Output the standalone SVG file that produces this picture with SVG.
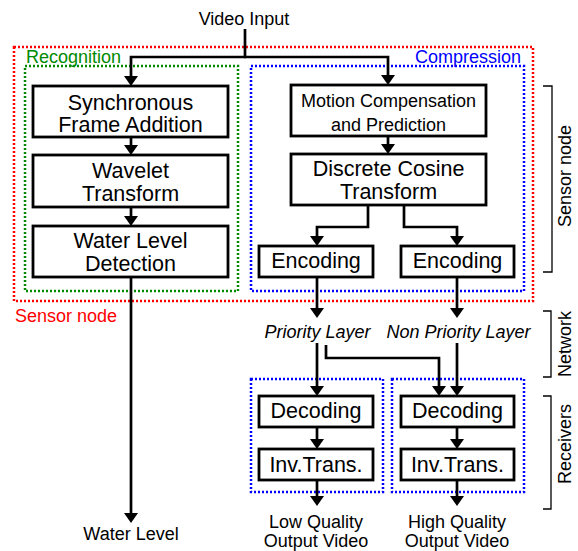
<svg xmlns="http://www.w3.org/2000/svg" width="578" height="551" viewBox="0 0 578 551">
<style>
text{font-family:"Liberation Sans",Arial,sans-serif;fill:#000}
.big{font-size:21.5px;text-anchor:middle}
.mid{font-size:18px;text-anchor:middle}
.lbl{font-size:18px}
.it{font-style:italic}
.box{fill:#fff;stroke:#000;stroke-width:2.8}
.dot{fill:none;stroke-width:2.5;stroke-dasharray:2 2}
.con{fill:none;stroke:#000;stroke-width:2.7;marker-end:url(#ah)}
.plain{fill:none;stroke:#000;stroke-width:2.7}
.br{fill:none;stroke:#000;stroke-width:1.3}
</style>
<defs>
<marker id="ah" markerUnits="userSpaceOnUse" markerWidth="10" markerHeight="14" viewBox="0 0 10 14" refX="4" refY="7" orient="auto">
<path d="M0,0 L10,7 L0,14 z" fill="#000"/>
</marker>
</defs>
<rect width="578" height="551" fill="#fff"/>
<g id="groups">
<rect class="dot" x="14" y="47" width="519" height="254" stroke="#ff0000"/>
<rect class="dot" x="25" y="66" width="213" height="225" stroke="#008a00"/>
<rect class="dot" x="251" y="66" width="273" height="225" stroke="#0000ff"/>
<rect class="dot" x="251" y="379" width="132" height="113" stroke="#0000ff"/>
<rect class="dot" x="392" y="379" width="132" height="113" stroke="#0000ff"/>
<text class="lbl" x="26" y="63" style="fill:#008a00">Recognition</text>
<text class="lbl" x="521" y="63" text-anchor="end" style="fill:#0000ff">Compression</text>
<text class="lbl" x="15" y="322" style="fill:#ff0000">Sensor node</text>
</g>
<g id="connectors">
<line class="plain" x1="245" y1="29" x2="245" y2="57"/>
<path class="con" d="M246,57 H131 V80"/>
<path class="con" d="M244,57 H388 V79"/>
<path class="con" d="M131,137 V149"/>
<path class="con" d="M131,207 V220"/>
<path class="con" d="M131,277 V517"/>
<path class="con" d="M388,136 V148"/>
<path class="con" d="M368,205 V227 H317 V240"/>
<path class="con" d="M404,205 V227 H457 V240"/>
<path class="con" d="M317,277 V312"/>
<path class="con" d="M457,277 V312"/>
<path class="con" d="M317,343 V390"/>
<path class="con" d="M326,345 V358 H439 V390"/>
<path class="con" d="M457,343 V390"/>
<path class="con" d="M317,427 V443"/>
<path class="con" d="M457,427 V443"/>
<path class="con" d="M317,480 V500"/>
<path class="con" d="M457,480 V500"/>
</g>
<g id="video-input"><text class="mid" x="244" y="25">Video Input</text></g>
<g id="sync">
<rect class="box" x="33" y="86" width="195" height="51"/>
<text class="big" x="130.5" y="110">Synchronous</text>
<text class="big" x="130.5" y="132">Frame Addition</text>
</g>
<g id="wavelet">
<rect class="box" x="33" y="155" width="195" height="52"/>
<text class="big" x="130.5" y="178">Wavelet</text>
<text class="big" x="130.5" y="201">Transform</text>
</g>
<g id="waterdetect">
<rect class="box" x="33" y="226" width="195" height="51"/>
<text class="big" x="130.5" y="248">Water Level</text>
<text class="big" x="130.5" y="271">Detection</text>
</g>
<g id="motion">
<rect class="box" x="291" y="85" width="195" height="51"/>
<text class="mid" x="388.5" y="107">Motion Compensation</text>
<text class="mid" x="388.5" y="131">and Prediction</text>
</g>
<g id="dct">
<rect class="box" x="291" y="154" width="195" height="51"/>
<text class="big" x="388.5" y="176">Discrete Cosine</text>
<text class="big" x="388.5" y="199">Transform</text>
</g>
<g id="enc1">
<rect class="box" x="259" y="246" width="114" height="31"/>
<text class="big" x="316" y="268">Encoding</text>
</g>
<g id="enc2">
<rect class="box" x="401" y="246" width="113" height="31"/>
<text class="big" x="457.5" y="268">Encoding</text>
</g>
<g id="priority"><text class="mid it" x="317.5" y="338">Priority Layer</text></g>
<g id="nonpriority"><text class="mid it" x="458.5" y="338">Non Priority Layer</text></g>
<g id="dec1">
<rect class="box" x="259" y="396" width="114" height="31"/>
<text class="big" x="316" y="418">Decoding</text>
</g>
<g id="dec2">
<rect class="box" x="401" y="396" width="113" height="31"/>
<text class="big" x="457.5" y="418">Decoding</text>
</g>
<g id="inv1">
<rect class="box" x="259" y="449" width="114" height="31"/>
<text class="big" x="316" y="472">Inv.Trans.</text>
</g>
<g id="inv2">
<rect class="box" x="401" y="449" width="113" height="31"/>
<text class="big" x="457.5" y="472">Inv.Trans.</text>
</g>
<g id="water-level"><text class="mid" x="131" y="540">Water Level</text></g>
<g id="low-out">
<text class="mid" x="316" y="528">Low Quality</text>
<text class="mid" x="316" y="547">Output Video</text>
</g>
<g id="high-out">
<text class="mid" x="457" y="528">High Quality</text>
<text class="mid" x="457" y="547">Output Video</text>
</g>
<g id="brackets">
<path class="br" d="M543,86 H552 V272 H543"/>
<path class="br" d="M543,311 H551 V377 H543"/>
<path class="br" d="M543,396 H551 V509 H543"/>
<text class="mid" transform="translate(571,176) rotate(-90)">Sensor node</text>
<text class="mid" transform="translate(571,344) rotate(-90)">Network</text>
<text class="mid" transform="translate(571,444) rotate(-90)">Receivers</text>
</g>
</svg>
